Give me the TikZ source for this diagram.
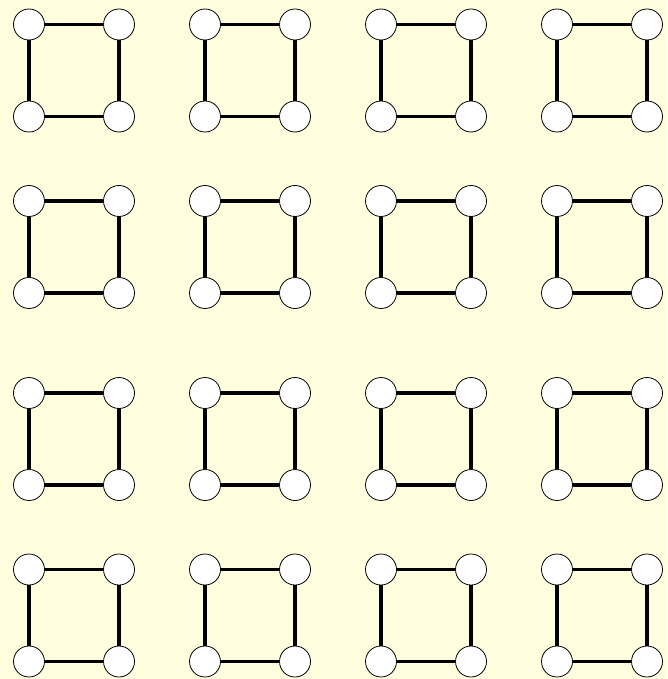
\documentclass[tikz,border=0pt]{standalone}
\usepackage{tikz}
\definecolor{paleyellow}{RGB}{255,255,224}
\tikzset{
    vertex/.style={
        circle,
        draw=black,
        fill=white,
        line width=0.8pt,
        inner sep=0pt,
        minimum size=31pt
    },
    % thick edge of the square
    sqedge/.style={
        line width=3.4pt,
        black
    }
}
\begin{document}
\begin{tikzpicture}[x=1pt,y=-1pt]
    \fill[paleyellow] (0,0) rectangle (667,679);
    \useasboundingbox (0,0) rectangle (667,679);
    \foreach \cx [count=\c] in {29,205,381,557}{
      \foreach \cy [count=\r] in {24.5,201,393,569.5}{
        \node[vertex] (tl\c\r) at (\cx,\cy) {};
        \node[vertex] (tr\c\r) at (\cx+90,\cy) {};
        \node[vertex] (bl\c\r) at (\cx,\cy+92) {};
        \node[vertex] (br\c\r) at (\cx+90,\cy+92) {};
        \draw[sqedge] (tl\c\r) -- (tr\c\r) -- (br\c\r) -- (bl\c\r) -- (tl\c\r);
      }
    }
\end{tikzpicture}
\end{document}
